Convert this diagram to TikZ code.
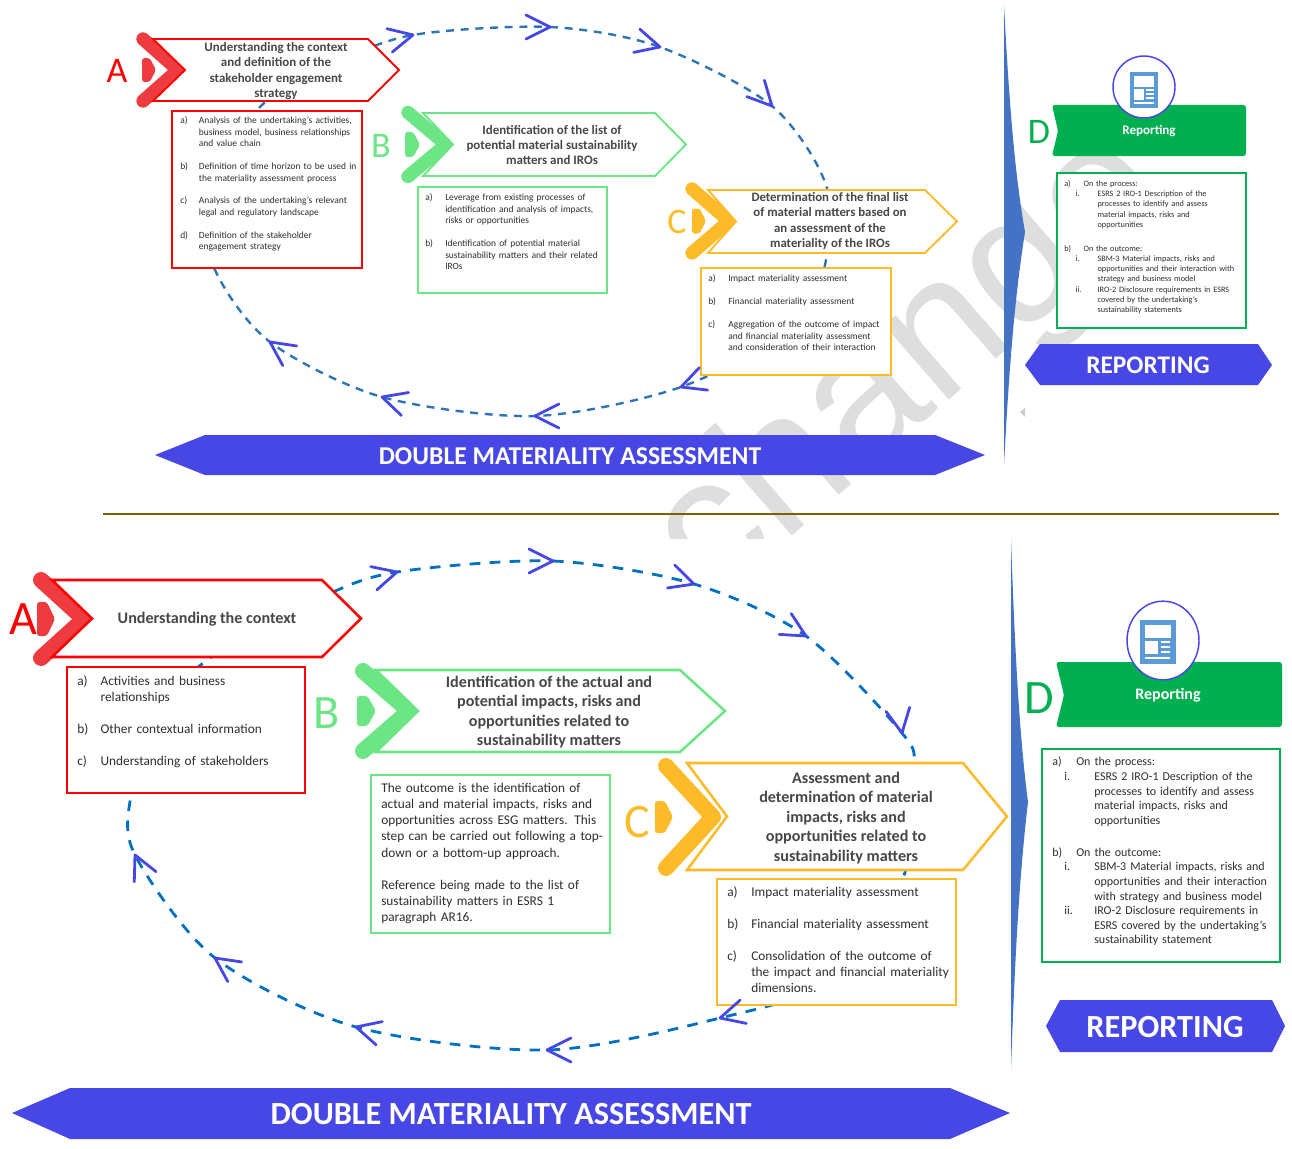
\documentclass[tikz,border=0pt]{standalone}
\usepackage{fontspec}
\setmainfont{Carlito}
\newfontfamily\markfont{Liberation Sans}
\usetikzlibrary{fit,shapes.geometric}
\definecolor{cred}{HTML}{FF0000}
\definecolor{cchevred}{HTML}{EE3B3F}
\definecolor{cgreen}{HTML}{6CE584}
\definecolor{cyellow}{HTML}{FDBB2A}
\definecolor{cdgreen}{HTML}{00B050}
\definecolor{cviolet}{HTML}{4747E6}
\definecolor{cline}{HTML}{2E75B6}
\definecolor{cloop}{HTML}{0070C0}
\definecolor{cicon}{HTML}{5B9BD5}
\definecolor{cspindle}{HTML}{4472C4}
\definecolor{cmark}{HTML}{DEDEDE}
\definecolor{csep}{HTML}{7F6000}
\tikzset{
	chevron/.style={line width=10pt,line cap=round,line join=round},
	outline/.style={fill=white,line width=1.4pt,line join=miter},
	listbox/.style={draw,fill=white,line width=.9pt,inner sep=0pt},
	listtext/.style={anchor=north west,inner sep=0pt,text width=260pt,align=left,text=black!82},
	titletext/.style={align=center,inner sep=0pt,text=black!72,font=\bfseries},
	loopline/.style={dash pattern=on 6pt off 5pt,line width=1.8pt},
	vtip/.style={draw=cviolet,line width=2.1pt,line cap=round,line join=round},
	banner/.style={fill=cviolet,draw=none},
}
\newcommand\stepmark[9]{% colour, corner x, mid y, half height, tip x, small left, small right, small half, letter node
	\draw[chevron,draw=#1] (#2,#3-#4) -- (#5,#3) -- (#2,#3+#4);
	\fill[#1,rounded corners=2pt] (#6,#3-#8) -- (#6+.55*#7-.55*#6,#3-#8) -- (#7,#3) -- (#6+.55*#7-.55*#6,#3+#8) -- (#6,#3+#8) -- cycle;
	#9}
\newcommand\hexbox[7]{% colour, left x, shoulder x, tip x, top y, bottom y, notch x
	\draw[outline,draw=#1] (#2,#5) -- (#3,#5) -- (#4,#5/2+#6/2) -- (#3,#6) -- (#2,#6) -- (#7,#5/2+#6/2) -- cycle;}
\newcommand\lit[3]{\par\noindent\makebox[#1][l]{#2}\parbox[t]{230pt}{#3\strut}\par\prevdepth=\dp\strutbox}
\newcommand\gap{\par\vspace{\baselineskip}}
\newcommand\docicon[3]{% x, y, scale
	\begin{scope}[shift={(#1,#2)},scale=#3]
		\fill[cicon] (-18,-22) rectangle (18,22);
		\fill[white] (-13,-17) rectangle (13,-4);
		\fill[white] (-13,-1) rectangle (0,12);
		\foreach \ly in {0,5,10} \fill[white] (3,\ly-1) rectangle (12,\ly+1);
		\fill[white] (-13,15) rectangle (12,17);
	\end{scope}}
\begin{document}
\begin{tikzpicture}[x=.75pt,y=-.75pt]
	\useasboundingbox (0,0) rectangle (1292,1149);
	\begin{scope} %watermark
		\clip (600,0) rectangle (1292,538);
		\node[rotate=41,anchor=base,text=cmark,inner sep=0pt,font=\markfont\fontsize{140}{140}\selectfont] (wmark) at (943,405) {change};
	\end{scope}
	\fill[black!20] (1020,412) -- (1025,408) -- (1025,417) -- cycle;
	\draw[line width=1.1pt,draw=csep] (103,514) coordinate (sepstart) -- (1279,514) coordinate (sepend); %separator
	% upper loop
	\foreach \n/\p in {a/{413,35},b/{550,27},c/{660,47},d/{772,106},e/{681,387},f/{535,416},g/{382,397},h/{270,342}}{
		\coordinate (u\n) at (\p);
	}
	\coordinate (u1) at (826,185);
	\coordinate (u2) at (825,265);
	\coordinate (u3) at (795,325);
	\coordinate (u4) at (215,270);
	\coordinate (u5) at (200,190);
	\coordinate (u6) at (262,105);
	\coordinate (u7) at (330,65);
	\draw[loopline,draw=cline] plot[smooth cycle] coordinates {(ua) (ub) (uc) (ud) (u1) (u2) (u3) (ue) (uf) (ug) (uh) (u4) (u5) (u6) (u7)};
	% lower loop
	\foreach \n/\p in {a/{397,572},b/{553,561},c/{694,584},d/{806,636},e/{902,733},f/{720,1018},g/{547,1050},h/{356,1027},i/{215,958},j/{135,855}}{
		\coordinate (v\n) at (\p);
	}
	\coordinate (v1) at (914,770);
	\coordinate (v2) at (903,878);
	\coordinate (v3) at (830,980);
	\coordinate (v4) at (131,795);
	\coordinate (v5) at (155,715);
	\coordinate (v6) at (210,658);
	\coordinate (v7) at (320,598);
	\draw[loopline,draw=cloop,dash pattern=on 8pt off 7pt,line width=2.1pt] plot[smooth cycle] coordinates {(va) (vb) (vc) (vd) (ve) (v1) (v2) (v3) (vf) (vg) (vh) (vi) (vj) (v4) (v5) (v6) (v7)};
	% spindles
	\fill[cspindle] (1004,5) .. controls (1010,120) and (1016,180) .. (1025,232) .. controls (1016,290) and (1010,350) .. (1004,465) coordinate (spa) -- cycle;
	\fill[cspindle] (1011,538) .. controls (1015,660) and (1020,740) .. (1028,802) .. controls (1020,870) and (1015,950) .. (1011,1070) coordinate (spb) -- cycle;
	% upper steps
	\stepmark{cchevred}{143}{70}{31}{178}{142}{156}{12}{\node[text=cred,inner sep=0pt,font=\fontsize{27}{27}\selectfont] (la) at (117,71) {A};}
	\hexbox{cred}{153}{368}{399}{39}{101}{185}
	\node[titletext,font=\bfseries\fontsize{9.7}{11.6}\selectfont] (ta) at (276,71) {Understanding the context\\and definition of the\\stakeholder engagement\\strategy};
	\stepmark{cgreen}{408}{144.5}{32}{446}{405}{420}{12.5}{\node[text=cgreen,inner sep=0pt,font=\fontsize{27}{27}\selectfont] (lb) at (381,146) {B};}
	\hexbox{cgreen}{423}{655}{686}{113}{176}{453}
	\node[titletext,font=\bfseries\fontsize{9.7}{11.6}\selectfont] (tb) at (552,145) {Identification of the list of\\potential material sustainability\\matters and IROs};
	\stepmark{cyellow}{692}{221}{32}{729}{692}{706}{12.5}{\node[text=cyellow,inner sep=0pt,font=\fontsize{27}{27}\selectfont] (lc) at (677,222) {C};}
	\hexbox{cyellow}{708}{925}{957}{190}{253}{736}
	\node[titletext,font=\bfseries\fontsize{9.6}{11.6}\selectfont] (tc) at (830,221) {Determination of the final list\\of material matters based on\\an assessment of the\\materiality of the IROs};
	% upper lists
	\node[listbox,draw=cred,fit={(172,111) (362,268)}] (boxa) {};
	\node[listtext,font=\fontsize{7.1}{8.6}\selectfont] (lista) at (180,112) {%
		\lit{14pt}{a)}{Analysis of the undertaking's activities,\\business model, business relationships\\and value chain}\gap
		\lit{14pt}{b)}{Definition of time horizon to be used in\\the materiality assessment process}\gap
		\lit{14pt}{c)}{Analysis of the undertaking's relevant\\legal and regulatory landscape}\gap
		\lit{14pt}{d)}{Definition of the stakeholder\\engagement strategy}};
	\node[listbox,draw=cgreen,fit={(418,187) (607,293)}] (boxb) {};
	\node[listtext,font=\fontsize{7.1}{8.6}\selectfont] (listb) at (425,189) {%
		\lit{15pt}{a)}{Leverage from existing processes of\\identification and analysis of impacts,\\risks or opportunities}\gap
		\lit{15pt}{b)}{Identification of potential material\\sustainability matters and their related\\IROs}};
	\node[listbox,draw=cyellow,fit={(701,268) (891,375)}] (boxc) {};
	\node[listtext,font=\fontsize{7.1}{8.6}\selectfont] (listc) at (708,270) {%
		\lit{15pt}{a)}{Impact materiality assessment}\gap
		\lit{15pt}{b)}{Financial materiality assessment}\gap
		\lit{15pt}{c)}{Aggregation of the outcome of impact\\and financial materiality assessment\\and consideration of their interaction}};
	\node[listbox,draw=cdgreen,fit={(1057,173) (1246,328)}] (boxd) {};
	\node[listtext,font=\fontsize{6.2}{7.65}\selectfont] (listd) at (1064,176) {%
		\lit{14.5pt}{a)}{On the process:}
		\leftskip=8.5pt\lit{16.5pt}{i.}{ESRS 2 IRO-1 Description of the\\processes to identify and assess\\material impacts, risks and\\opportunities}
		\vspace{10.3pt}\leftskip=0pt
		\lit{14.5pt}{b)}{On the outcome:}
		\leftskip=8.5pt\lit{16.5pt}{i.}{SBM-3 Material impacts, risks and\\opportunities and their interaction with\\strategy and business model}
		\lit{16.5pt}{ii.}{IRO-2 Disclosure requirements in ESRS\\covered by the undertaking's\\sustainability statements}};
	% upper reporting
	\fill[cdgreen,rounded corners=2pt] (1052,105) -- (1246,105) -- (1246,156) -- (1052,156) -- (1058,131) -- cycle;
	\node[inner sep=0pt,text=white,font=\bfseries\fontsize{9.8}{11}\selectfont] (rpa) at (1149,131) {Reporting};
	\node[inner sep=0pt,text=cdgreen,font=\fontsize{27}{27}\selectfont] (ld) at (1039,132) {D};
	\node[ellipse,draw=cviolet,fill=white,line width=1.1pt,minimum width=46.5pt,minimum height=46.5pt,inner sep=0pt] (ciru) at (1144,87) {};
	\docicon{1144}{90}{.8}
	\fill[banner] (155,455) -- (205,435) -- (935,435) -- (985,455) -- (935,475) -- (205,475) -- cycle;
	\node[inner sep=0pt,text=white,font=\bfseries\fontsize{19.25}{22}\selectfont] (dma) at (570,456) {DOUBLE MATERIALITY ASSESSMENT};
	\fill[banner] (1025,365) -- (1040,344) -- (1258,344) -- (1272,365) -- (1258,385) -- (1040,385) -- cycle;
	\node[inner sep=0pt,text=white,font=\bfseries\fontsize{19}{22}\selectfont] (repa) at (1148,365) {REPORTING};
	% lower steps
	\begin{scope}[chevron/.append style={line width=12pt},outline/.append style={line width=1.9pt}]
		\stepmark{cchevred}{41}{619}{39}{84}{37}{55}{17}{\node[text=cred,inner sep=0pt,font=\fontsize{36}{36}\selectfont] (lla) at (23,619) {A};}
		\hexbox{cred}{52}{322}{361}{580}{657}{92}
		\node[titletext,font=\bfseries\fontsize{12.1}{14.6}\selectfont] (tta) at (207,619) {Understanding the context};
		\stepmark{cgreen}{363}{711}{40}{409}{357}{376}{15}{\node[text=cgreen,inner sep=0pt,font=\fontsize{36}{36}\selectfont] (llb) at (327,713) {B};}
		\hexbox{cgreen}{376}{680}{725}{670}{752}{418}
		\node[titletext,font=\bfseries\fontsize{12.1}{14.6}\selectfont] (ttb) at (549,712) {Identification of the actual and\\potential impacts, risks and\\opportunities related to\\sustainability matters};
		\stepmark{cyellow}{666}{817}{51}{713}{655}{673}{16}{\node[text=cyellow,inner sep=0pt,font=\fontsize{36}{36}\selectfont] (llc) at (637,822) {C};}
		\hexbox{cyellow}{687}{963}{1007}{763}{870}{727}
		\node[titletext,font=\bfseries\fontsize{12.1}{14.6}\selectfont] (ttc) at (846,818) {Assessment and\\determination of material\\impacts, risks and\\opportunities related to\\sustainability matters};
	\end{scope}
	% lower lists
	\node[listbox,draw=cred,fit={(67,667) (305,793)}] (bxa) {};
	\node[listtext,font=\fontsize{10}{12}\selectfont] (ltsa) at (77,669) {%
		\lit{17.5pt}{a)}{Activities and business\\relationships}\gap
		\lit{17.5pt}{b)}{Other contextual information}\gap
		\lit{17.5pt}{c)}{Understanding of stakeholders}};
	\node[listbox,draw=cgreen,fit={(371,775) (610,933)}] (bxb) {};
	\node[listtext,font=\fontsize{10}{12.1}\selectfont] (ltsb) at (381,783) {%
		The outcome is the identification of\\actual and material impacts, risks and\\opportunities across ESG matters. This\\step can be carried out following a top-\\down or a bottom-up approach.\gap
		Reference being made to the list of\\sustainability matters in ESRS 1\\paragraph AR16.};
	\node[listbox,draw=cyellow,fit={(717,879) (956,1005)}] (bxc) {};
	\node[listtext,font=\fontsize{10}{12}\selectfont] (ltsc) at (727,880) {%
		\lit{18pt}{a)}{Impact materiality assessment}\gap
		\lit{18pt}{b)}{Financial materiality assessment}\gap
		\lit{18pt}{c)}{Consolidation  of the outcome of\\the impact and financial materiality\\dimensions.}};
	\node[listbox,draw=cdgreen,fit={(1042,749) (1280,962)}] (bxd) {};
	\node[listtext,font=\fontsize{9}{10.95}\selectfont] (ltsd) at (1052,751) {%
		\lit{18pt}{a)}{On the process:}
		\leftskip=9pt\lit{22.5pt}{i.}{ESRS 2 IRO-1 Description of the\\processes to identify and assess\\material impacts, risks and\\opportunities}
		\vspace{13pt}\leftskip=0pt
		\lit{18pt}{b)}{On the outcome:}
		\leftskip=9pt\lit{22.5pt}{i.}{SBM-3 Material impacts, risks and\\opportunities and their interaction\\with strategy and business model}
		\lit{22.5pt}{ii.}{IRO-2 Disclosure requirements in\\ESRS covered by the undertaking's\\sustainability statement}};
	% lower reporting
	\fill[cdgreen,rounded corners=2pt] (1056,662) -- (1282,662) -- (1282,727) -- (1056,727) -- (1064,695) -- cycle;
	\node[inner sep=0pt,text=white,font=\bfseries\fontsize{12}{14}\selectfont] (rpb) at (1168,695) {Reporting};
	\node[inner sep=0pt,text=cdgreen,font=\fontsize{36}{36}\selectfont] (lld) at (1039,698) {D};
	\node[ellipse,draw=cviolet,fill=white,line width=1.1pt,minimum width=54pt,minimum height=59pt,inner sep=0pt] (cirb) at (1163,640.5) {};
	\docicon{1158}{642}{1}
	\fill[banner] (12,1113) -- (70,1088) -- (950,1088) -- (1010,1113) -- (950,1139) -- (70,1139) -- cycle;
	\node[inner sep=0pt,text=white,font=\bfseries\fontsize{24.2}{26}\selectfont] (dmb) at (511,1114) {DOUBLE MATERIALITY ASSESSMENT};
	\fill[banner] (1046,1026) -- (1060,1000) -- (1272,1000) -- (1285,1026) -- (1272,1052) -- (1060,1052) -- cycle;
	\node[inner sep=0pt,text=white,font=\bfseries\fontsize{24.2}{26}\selectfont] (repb) at (1165,1027) {REPORTING};
	% loop heads on top
	\foreach \n/\a in {ua/13,ub/0,uc/-15,ud/-47,ue/200,uf/180,ug/163,uh/145,va/15,vb/0,vc/-18,vd/-30,ve/-80,vf/195,vg/180,vh/165,vi/145,vj/115}{
		\draw[vtip,shift={(\n)},rotate=\a] (-24,-12) -- (0,0) -- (-24,12);
	}
\end{tikzpicture}
\end{document}
